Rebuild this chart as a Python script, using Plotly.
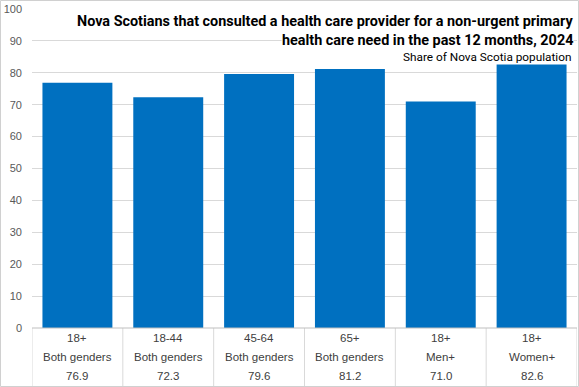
import plotly.graph_objects as go

age_groups = ["18+", "18-44", "45-64", "65+", "18+", "18+"]
genders = ["Both genders", "Both genders", "Both genders", "Both genders", "Men+", "Women+"]
values = [76.9, 72.3, 79.6, 81.2, 71.0, 82.6]
y_ticks = [0, 10, 20, 30, 40, 50, 60, 70, 80, 90, 100]

title_line1 = "Nova Scotians that consulted a health care provider for a non-urgent primary"
title_line2 = "health care need in the past 12 months, 2024"
subtitle = "Share of Nova Scotia population"

W, H = 579, 387
L, R, T, B = 32, 2, 9, 59
pw, ph = W - L - R, H - T - B

x = list(range(len(values)))
fig = go.Figure(go.Bar(x=x, y=values, marker_color="#0070C0", marker_line_width=0,
                       width=0.77, hoverinfo="skip"))

font_main = "Liberation Sans, Arial, sans-serif"
txt_col = "#404040"

def px2x(px):
    return (px - L) / pw
def py2y(py):
    return 1 - (py - T) / ph

annotations = []
rows = [age_groups, genders, [f"{v:.1f}" for v in values]]
row_py = [338, 357, 376]
for r, py in zip(rows, row_py):
    for i, t in enumerate(r):
        annotations.append(dict(x=i, y=py2y(py), xref="x", yref="paper", text=t,
                                showarrow=False, font=dict(size=11.5, color=txt_col, family=font_main),
                                xanchor="center", yanchor="middle"))

title_font = dict(size=14.4, color="#000000", family="Roboto, sans-serif")

annotations.append(dict(x=px2x(574), y=py2y(22), xref="paper", yref="paper",
                        text="<b>" + title_line1 + "</b>", showarrow=False, font=title_font,
                        xanchor="right", yanchor="middle", bgcolor="white", borderpad=0))
annotations.append(dict(x=px2x(574), y=py2y(41), xref="paper", yref="paper",
                        text="<b>" + title_line2 + "</b>", showarrow=False, font=title_font,
                        xanchor="right", yanchor="middle", bgcolor="white", borderpad=0))
annotations.append(dict(x=px2x(574), y=py2y(57), xref="paper", yref="paper",
                        text=subtitle, showarrow=False,
                        font=dict(size=11.8, color="#000000", family="Roboto, sans-serif"),
                        xanchor="right", yanchor="middle"))

shapes = []
for k in range(len(values) + 1):
    shapes.append(dict(type="line", xref="x", yref="paper", x0=k - 0.5, x1=k - 0.5,
                       y0=0, y1=py2y(386), line=dict(color="#d9d9d9", width=1), layer="below"))
shapes.append(dict(type="line", xref="paper", yref="paper", x0=0, x1=1, y0=0, y1=0,
                   line=dict(color="#bfbfbf", width=1)))
shapes.append(dict(type="rect", xref="paper", yref="paper", x0=px2x(0.5), x1=px2x(578.5),
                   y0=py2y(386.5), y1=py2y(0.5), line=dict(color="#d0d0d0", width=1)))

fig.update_layout(
    width=W, height=H, margin=dict(l=L, r=R, t=T, b=B),
    paper_bgcolor="white", plot_bgcolor="white",
    showlegend=False, annotations=annotations, shapes=shapes,
    xaxis=dict(range=[-0.5, len(values) - 0.5], showticklabels=False, showgrid=False,
               zeroline=False, fixedrange=True),
    yaxis=dict(range=[0, 100], tickvals=y_ticks, showgrid=True, gridcolor="#d9d9d9",
               zeroline=False, ticks="", ticklabelstandoff=9, fixedrange=True,
               tickfont=dict(size=11, color="#595959", family=font_main)),
)
fig.write_html("out.html", config={"displayModeBar": False},
               post_script="document.body.style.margin='0';document.body.style.overflow='hidden';")
